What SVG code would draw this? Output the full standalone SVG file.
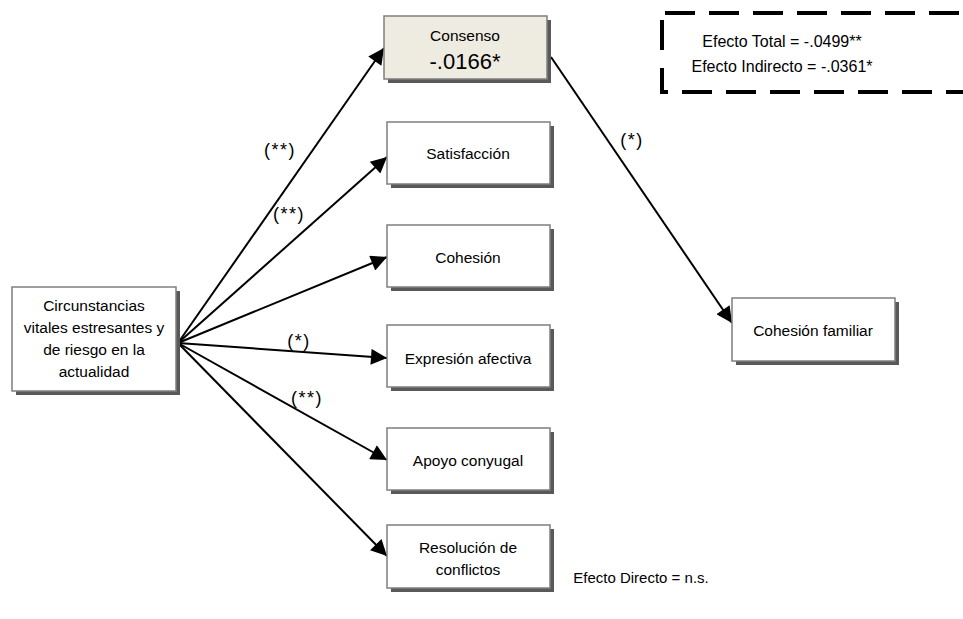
<svg xmlns="http://www.w3.org/2000/svg" width="963" height="619" viewBox="0 0 963 619">
<defs>
<marker id="ah2" viewBox="0 0 10 10" refX="10" refY="5" markerWidth="20" markerHeight="16" markerUnits="userSpaceOnUse" orient="auto"><path d="M0,0 L10,5 L0,10 z" fill="#000"/></marker>
</defs>
<style>
.box{fill:#fff;stroke:#7f7f7f;stroke-width:1.5}
.shadow{fill:#595959}
.t{font-family:"Liberation Sans",Arial,sans-serif;font-size:15.5px;fill:#000;text-anchor:middle}
.l{font-family:"Liberation Sans",Arial,sans-serif;font-size:18px;fill:#000;text-anchor:middle;letter-spacing:1.5px}
.c{stroke:#000;stroke-width:2;fill:none;marker-end:url(#ah2)}
</style>
<rect width="963" height="619" fill="#fff"/>
<g id="connectors">
<line class="c" x1="178" y1="343" x2="384" y2="48"/>
<line class="c" x1="178" y1="343" x2="387" y2="157"/>
<line class="c" x1="178" y1="343" x2="387" y2="257"/>
<line class="c" x1="178" y1="343" x2="387" y2="358"/>
<line class="c" x1="178" y1="343" x2="387" y2="460"/>
<line class="c" x1="178" y1="343" x2="387" y2="556"/>
<line class="c" x1="551" y1="57" x2="732" y2="323"/>
</g>
<g id="n-source"><rect class="shadow" x="16" y="291" width="164" height="104"/><rect class="box" x="12" y="287" width="164" height="104"/>
<text class="t" x="94" y="311">Circunstancias</text><text class="t" x="94" y="333">vitales estresantes y</text><text class="t" x="94" y="355">de riesgo en la</text><text class="t" x="94" y="377">actualidad</text></g>
<g id="n-consenso"><rect class="shadow" x="388" y="20" width="163" height="63"/><rect x="384" y="16" width="163" height="63" fill="#eeebe0" stroke="#7f7f7f" stroke-width="1.5"/>
<text class="t" x="465" y="41">Consenso</text><text class="t" x="465" y="69" style="font-size:22px">-.0166*</text></g>
<g id="n-satisfaccion"><rect class="shadow" x="391" y="126" width="163" height="62"/><rect class="box" x="387" y="122" width="163" height="62"/><text class="t" x="468" y="159">Satisfacción</text></g>
<g id="n-cohesion"><rect class="shadow" x="391" y="229" width="163" height="62"/><rect class="box" x="387" y="225" width="163" height="62"/><text class="t" x="468" y="263">Cohesión</text></g>
<g id="n-expresion"><rect class="shadow" x="391" y="329" width="163" height="62"/><rect class="box" x="387" y="325" width="163" height="62"/><text class="t" x="468" y="364">Expresión afectiva</text></g>
<g id="n-apoyo"><rect class="shadow" x="391" y="432" width="163" height="62"/><rect class="box" x="387" y="428" width="163" height="62"/><text class="t" x="468" y="466">Apoyo conyugal</text></g>
<g id="n-resolucion"><rect class="shadow" x="391" y="529" width="163" height="63"/><rect class="box" x="387" y="525" width="163" height="63"/><text class="t" x="468" y="553">Resolución de</text><text class="t" x="468" y="575">conflictos</text></g>
<g id="n-cohfam"><rect class="shadow" x="736" y="302" width="163" height="63"/><rect class="box" x="732" y="298" width="163" height="63"/><text class="t" x="813" y="336">Cohesión  familiar</text></g>
<g id="labels">
<text class="l" x="280" y="156">(**)</text>
<text class="l" x="289" y="220">(**)</text>
<text class="l" x="299" y="347">(*)</text>
<text class="l" x="307" y="404">(**)</text>
<text class="l" x="632" y="146">(*)</text>
</g>
<g id="effects">
<path d="M665,13 H963 M662,20 V50 M662,68 V92 H963" fill="none" stroke="#000" stroke-width="4" stroke-dasharray="30,14"/>
<text class="t" x="782" y="47" style="font-size:16px">Efecto Total = -.0499**</text>
<text class="t" x="782" y="72" style="font-size:16px">Efecto Indirecto = -.0361*</text>
<text class="t" x="641" y="583" style="font-size:15px">Efecto Directo = n.s.</text>
</g>
</svg>
